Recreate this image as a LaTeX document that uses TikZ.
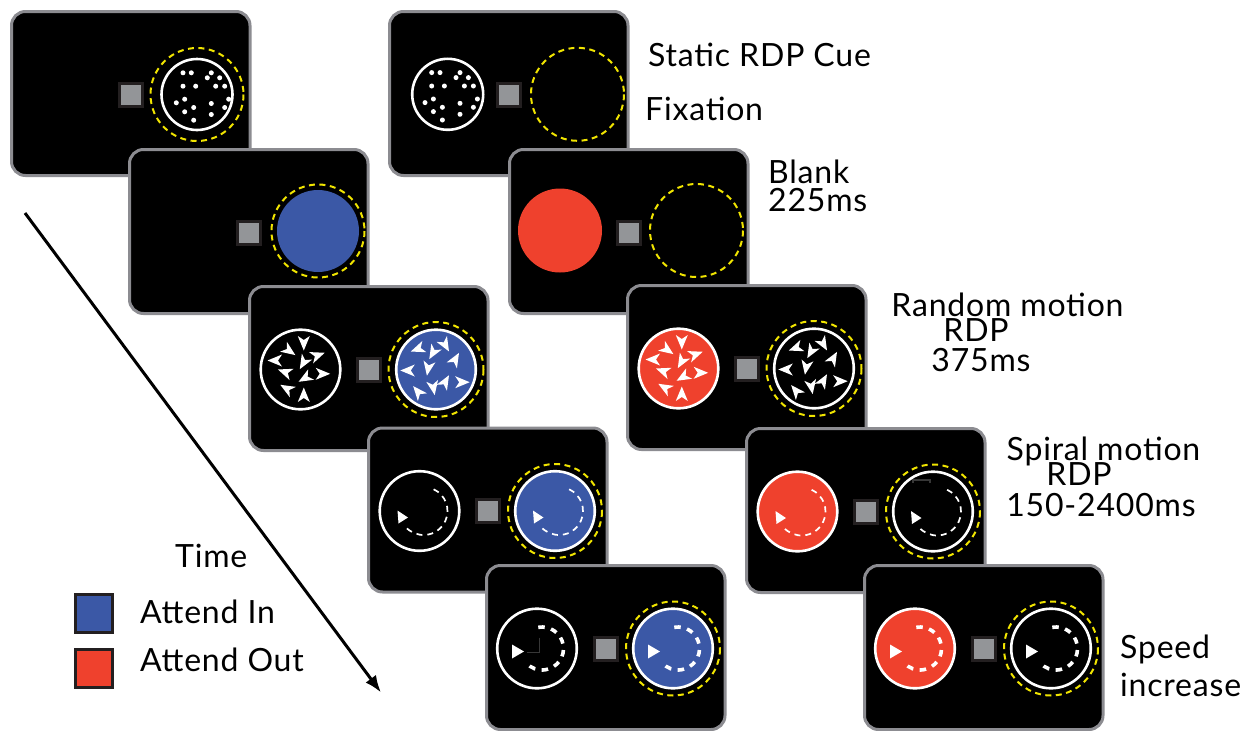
\documentclass[tikz,border=0pt]{standalone}
\usepackage{fontspec}
\setmainfont{Lato}[LetterSpace=2.5]
\usetikzlibrary{arrows.meta}
\definecolor{scrgray}{RGB}{140,140,145}
\definecolor{fixgray}{RGB}{147,149,152}
\definecolor{fixdark}{RGB}{35,31,32}
\definecolor{attblue}{RGB}{59,88,166}
\definecolor{attred}{RGB}{239,65,45}
\definecolor{rdpyellow}{RGB}{240,228,0}
\definecolor{markgray}{RGB}{55,55,55}
\tikzset{
  screenbox/.style={draw=scrgray, line width=3pt, fill=black, rounded corners=14pt},
  fixbox/.style={draw=fixdark, line width=3pt, fill=fixgray},
  ring/.style={draw=white, line width=2.6pt},
  cuering/.style={draw=rdpyellow, line width=2pt, dash pattern=on 6pt off 4.5pt},
  lbl/.style={font=\fontsize{32}{32}\selectfont, inner sep=0pt, text depth=0pt, anchor=base west},
  lblc/.style={font=\fontsize{32}{32}\selectfont, inner sep=0pt, text depth=0pt, anchor=base},
  legbox/.style={draw=fixdark, line width=3pt},
  thinspiral/.style={draw=white, line width=1.7pt, dash pattern=on 6pt off 5pt},
  thickspiral/.style={draw=white, line width=3.6pt, dash pattern=on 6.5pt off 6.5pt},
  artmark/.style={draw=markgray, line width=1.5pt}
}
% screen frame with fixation square, relative to top-left corner
\newcommand\screenframe{%
  \draw[screenbox] (1.5,1.5) rectangle (240,165.5);
  \draw[fixbox] (109,73) rectangle (132,96);}
% glyph helpers (local, y-up)
\newcommand\rdpdots{%
  \foreach \dx/\dy in {-16/21.7, -7.7/21.7, 12.3/21.7, 8.3/16.7, 20.7/16.7,
     -16/8.3, -3.3/8.3, 16.7/8.3, 25.7/8.3, -14.3/-4.7, -22.7/-8.3, 29.7/-4.7,
     12.3/-9, 25.7/-13, -14.3/-17.3, -5.3/-13, 12.3/-20, -5.3/-25.7}
    {\fill[white] (\dx,\dy) circle (2.5pt);}}
\newcommand\warr[3]{\fill[white,shift={(#1,#2)},rotate=#3] (8,0) -- (-6.5,6) -- (-2.5,0) -- (-6.5,-6) -- cycle;}
\newcommand\arrowsA{%
  \warr{3.3}{27}{90}\warr{-11.7}{19}{35}\warr{16.7}{14}{-20}\warr{-25}{9}{180}
  \warr{3.3}{7.3}{120}\warr{-15}{-2.7}{200}\warr{21.7}{-4.3}{0}\warr{5}{-8.3}{150}
  \warr{-13.3}{-19.3}{210}\warr{3.3}{-26}{-90}}
\newcommand\arrowsB{%
  \warr{-17.7}{20.7}{160}\warr{-2.7}{17.3}{120}\warr{9}{25}{60}\warr{19}{9.7}{-60}
  \warr{-27.7}{-1}{180}\warr{-7.7}{1.7}{100}\warr{9}{-12.7}{-60}\warr{25.7}{-12.7}{0}
  \warr{-17.7}{-22.7}{230}\warr{-2.7}{-17.7}{80}}
\newcommand\spiralthin{%
  \draw[thinspiral] (4,0) ++(65:24) arc[start angle=65, end angle=-140, radius=24];
  \fill[white] (-22,0.5) -- (-11.5,-6.5) -- (-21,-12.5) -- cycle;}
\newcommand\spiralthick{%
  \draw[thickspiral] (5,0) ++(100:21.5) arc[start angle=100, end angle=-140, radius=21.5];
  \fill[white] (-25,4) -- (-13,-3) -- (-25,-10) -- cycle;}
\begin{document}
\begin{tikzpicture}[x=1pt,y=-1pt]
\useasboundingbox (0,0) rectangle (1251,731);
\fill[white] (0,0) rectangle (1251,731);

% ---------------- left column ----------------
% L0
\begin{scope}[shift={(10,10)}]
  \screenframe
  \begin{scope}[shift={(187,84.5)},yscale=-1]
    \draw[cuering] (0,0) circle (46.5pt);
    \draw[ring] (0,0) circle (35.5pt);
    \begin{scope}[xshift=2pt]\rdpdots\end{scope}
  \end{scope}
\end{scope}
% L1
\begin{scope}[shift={(128,148)}]
  \screenframe
  \begin{scope}[shift={(190,83)},yscale=-1]
    \draw[cuering] (0,0) circle (46.5pt);
    \fill[attblue] (0,0) circle (41pt);
  \end{scope}
\end{scope}
% L2
\begin{scope}[shift={(248,285)}]
  \screenframe
  \begin{scope}[shift={(52.5,84.5)},yscale=-1]
    \draw[ring] (0,0) circle (39.8pt);
    \arrowsA
  \end{scope}
  \begin{scope}[shift={(188,84.5)},yscale=-1]
    \draw[cuering] (0,0) circle (47.5pt);
    \draw[ring,fill=attblue] (0,0) circle (39.8pt);
    \arrowsB
  \end{scope}
\end{scope}
% L3
\begin{scope}[shift={(367,426.5)}]
  \screenframe
  \begin{scope}[shift={(52.5,84.5)},yscale=-1]
    \draw[ring] (0,0) circle (39.8pt);
    \spiralthin
  \end{scope}
  \begin{scope}[shift={(188,84.5)},yscale=-1]
    \draw[cuering] (0,0) circle (47pt);
    \draw[ring,fill=attblue] (0,0) circle (39.8pt);
    \spiralthin
  \end{scope}
\end{scope}
% L4
\begin{scope}[shift={(485,564)}]
  \screenframe
  \begin{scope}[shift={(52,84.5)},yscale=-1]
    \draw[ring] (0,0) circle (39.8pt);
    \draw[artmark] (2.7,11) -- (2.7,-4) -- (-10,-4);
    \spiralthick
  \end{scope}
  \begin{scope}[shift={(188,84.5)},yscale=-1]
    \draw[cuering] (0,0) circle (47pt);
    \draw[ring,fill=attblue] (0,0) circle (39.8pt);
    \spiralthick
  \end{scope}
\end{scope}

% ---------------- right column ----------------
% R0
\begin{scope}[shift={(388,10)}]
  \screenframe
  \begin{scope}[shift={(59.7,84.3)},yscale=-1]
    \draw[ring] (0,0) circle (35.5pt);
    \rdpdots
  \end{scope}
  \begin{scope}[shift={(189.5,84.3)},yscale=-1]
    \draw[cuering] (0,0) circle (46.5pt);
  \end{scope}
\end{scope}
% R1
\begin{scope}[shift={(508,148)}]
  \screenframe
  \begin{scope}[shift={(52,82.5)},yscale=-1]
    \fill[attred] (0,0) circle (42pt);
  \end{scope}
  \begin{scope}[shift={(188.5,82.5)},yscale=-1]
    \draw[cuering] (0,0) circle (46.5pt);
  \end{scope}
\end{scope}
% R2
\begin{scope}[shift={(626,284)}]
  \screenframe
  \begin{scope}[shift={(52.5,84.5)},yscale=-1]
    \draw[ring,fill=attred] (0,0) circle (39.8pt);
    \arrowsA
  \end{scope}
  \begin{scope}[shift={(188,84.5)},yscale=-1]
    \draw[cuering] (0,0) circle (47.5pt);
    \draw[ring] (0,0) circle (39.8pt);
    \arrowsB
  \end{scope}
\end{scope}
% R3
\begin{scope}[shift={(745,427)}]
  \screenframe
  \begin{scope}[shift={(52.5,84.5)},yscale=-1]
    \draw[ring,fill=attred] (0,0) circle (39.8pt);
    \spiralthin
  \end{scope}
  \begin{scope}[shift={(188,84.5)},yscale=-1]
    \draw[cuering] (0,0) circle (47pt);
    \draw[ring] (0,0) circle (39.8pt);
    \draw[artmark] (-20,29) -- (-20,31.5) -- (-3,31.5) -- (-3,29);
    \spiralthin
  \end{scope}
\end{scope}
% R4
\begin{scope}[shift={(863,564)}]
  \screenframe
  \begin{scope}[shift={(52,84.5)},yscale=-1]
    \draw[ring,fill=attred] (0,0) circle (39.8pt);
    \spiralthick
  \end{scope}
  \begin{scope}[shift={(188,84.5)},yscale=-1]
    \draw[cuering] (0,0) circle (47pt);
    \draw[ring] (0,0) circle (39.8pt);
    \spiralthick
  \end{scope}
\end{scope}

% ---------------- time arrow ----------------
\coordinate (tstart) at (25,213);
\coordinate (tend) at (381,692.5);
\draw[line width=3pt, -{Latex[length=17pt,width=13pt]}] (tstart) -- (tend);

% ---------------- labels ----------------
\node[lbl] (lstatic) at (648,66.5) {Static RDP Cue};
\node[lbl] (lfix) at (645,120) {Fixation};
\node[lbl] (lblank) at (768,183) {Blank};
\node[lbl] (lblankt) at (768,211.5) {225ms};
\node[lblc] (lrand) at (1007.5,316.5) {Random motion};
\node[lblc] (lrandr) at (976,341.5) {RDP};
\node[lblc] (lrandt) at (981,371.5) {375ms};
\node[lblc] (lspir) at (1103.5,460) {Spiral motion};
\node[lblc] (lspirr) at (1079,485) {RDP};
\node[lblc] (lspirt) at (1101,516.5) {150-2400ms};
\node[lbl] (lspeed) at (1120,658) {Speed};
\node[lbl] (lincr) at (1120,696) {increase};
\node[lbl] (ltime) at (175,567) {Time};

% ---------------- legend ----------------
\draw[legbox,fill=attblue] (75.5,594.5) rectangle (112.8,632.5);
\draw[legbox,fill=attred] (75.5,649.5) rectangle (112.8,687.5);
\node[lbl] (lin) at (140,623) {Attend In};
\node[lbl] (lout) at (140,671) {Attend Out};
\end{tikzpicture}
\end{document}
